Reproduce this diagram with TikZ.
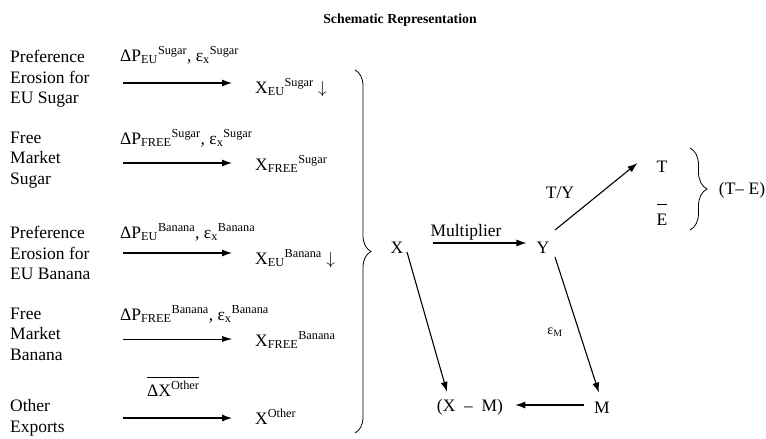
\documentclass[tikz,border=0pt]{standalone}
\usepackage{fontspec}
\setmainfont{Liberation Serif}
\usetikzlibrary{arrows.meta,decorations.pathreplacing}

\tikzset{
  body/.style={inner sep=0pt,font=\fontsize{17.5}{20.5}\selectfont},
  grp/.style={body,anchor=west,align=left},
  shk/.style={body,anchor=base west},
  res/.style={body,anchor=base west},
  arr/.style={-{Latex[length=10pt,width=7pt]},line width=1.1pt},
  brc/.style={decorate,decoration={brace,amplitude=#1},line width=0.8pt},
}

\begin{document}
\begin{tikzpicture}[x=1pt,y=-1pt]
\useasboundingbox (0,0) rectangle (766,439);

\node[inner sep=0pt,font=\fontsize{13.8}{16}\selectfont\bfseries] (title) at (400,20) {Schematic Representation};

%sources of the shock
\node[grp] (g1) at (10,79) {Preference\\Erosion for\\EU Sugar};
\node[grp] (g2) at (10,160) {Free\\Market\\Sugar};
\node[grp] (g3) at (10,253) {Preference\\Erosion for\\EU Banana};
\node[grp] (g4) at (10,334) {Free\\Market\\Banana};
\node[grp] (g5) at (10,418) {Other\\Exports};

%price changes and elasticities
\node[shk] (p1) at (120,61) {ΔP\textsubscript{EU}\textsuperscript{Sugar}, ε\textsubscript{x}\textsuperscript{Sugar}};
\node[shk] (p2) at (120,144) {ΔP\textsubscript{FREE}\textsuperscript{Sugar}, ε\textsubscript{x}\textsuperscript{Sugar}};
\node[shk] (p3) at (120,238) {ΔP\textsubscript{EU}\textsuperscript{Banana}, ε\textsubscript{x}\textsuperscript{Banana}};
\node[shk] (p4) at (120,320) {ΔP\textsubscript{FREE}\textsuperscript{Banana}, ε\textsubscript{x}\textsuperscript{Banana}};
\node[shk] (p5) at (147,396) {$\overline{\mbox{\rule{0pt}{17pt}ΔX\textsuperscript{Other}}}$};

%export responses
\node[res] (x1) at (255,93) {X\textsubscript{EU}\textsuperscript{Sugar} $\downarrow$};
\node[res] (x2) at (255,170) {X\textsubscript{FREE}\textsuperscript{Sugar}};
\node[res] (x3) at (255,264) {X\textsubscript{EU}\textsuperscript{Banana} $\downarrow$};
\node[res] (x4) at (255,346) {X\textsubscript{FREE}\textsuperscript{Banana}};
\node[res] (x5) at (255,424) {X\textsuperscript{Other}};

\coordinate (s1) at (123,83);
\coordinate (s2) at (123,163);
\coordinate (s3) at (123,253);
\coordinate (s4) at (123,339);
\coordinate (s5) at (123,418);
\draw[arr] (s1) -- (s1 -| x1.west) [shorten >=23pt];
\draw[arr] (s2) -- (s2 -| x2.west) [shorten >=23pt];
\draw[arr] (s3) -- (s3 -| x3.west) [shorten >=23pt];
\draw[-{Latex[length=10pt,width=6pt]},line width=0.5pt] (s4) -- (s4 -| x4.west) [shorten >=23pt];
\draw[arr] (s5) -- (s5 -| x5.west) [shorten >=23pt];

\draw[brc=16pt] (355,70) -- (355,433);

%macro side
\node[body] (X) at (397,248) {X};
\node[body] (Y) at (543,248) {Y};
\node[body] (T) at (662,167) {T};
\node[body] (E) at (662,220) {E};
\node[body] (M) at (602,408) {M};
\node[body] (XM) at (470,407) {(X\enspace–\enspace M)};
\node[body] (TE) at (742,190) {(T– E)};

\node[body] (mult) at (466,232) {Multiplier};
\node[body] (ty) at (560,193) {T/Y};
\node[inner sep=0pt,font=\fontsize{14}{16}\selectfont] (em) at (555,332) {ε\textsubscript{M}};

\draw[arr] (X) ++(36,-5) coordinate (xa) -- (Y.west |- xa) [shorten >=10pt];
\draw[arr] (Y) ++(12,-18) coordinate (ya) -- ([xshift=-19pt,yshift=-2pt]T.north west);
\draw[arr] (Y) ++(12,9) coordinate (yb) -- (M.north) [shorten >=10pt];
\draw[arr] (M.west) ++(-10,-3) coordinate (ma) -- (XM.east |- ma) [shorten >=12pt];
\draw[arr] (X) ++(10,4) coordinate (xb) -- ([xshift=-23pt,yshift=7pt]XM.north);

\draw[line width=0.8pt] ([xshift=-5pt,yshift=10pt]E.north) -- ([xshift=5pt,yshift=10pt]E.north);
\draw[brc=17pt] (690,148) -- (690,230);

\end{tikzpicture}
\end{document}
